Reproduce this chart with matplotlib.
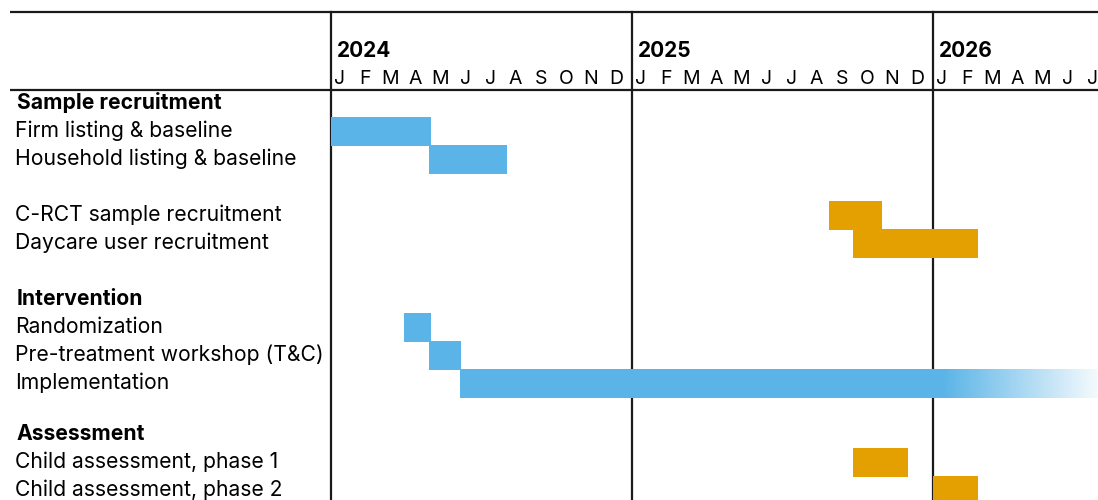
import numpy as np
import matplotlib.pyplot as plt
from matplotlib.colors import to_rgb

plt.rcParams['font.family'] = ['Inter', 'DejaVu Sans']

# ---- data (months counted from Jan 2024) ----
years = ["2024", "2025", "2026"]
month_letters = ["J", "F", "M", "A", "M", "J", "J", "A", "S", "O", "N", "D"]

sections = ["Sample recruitment", "Intervention", "Assessment"]
section_tasks = [
    ["Firm listing & baseline", "Household listing & baseline", None,
     "C-RCT sample recruitment", "Daycare user recruitment"],
    ["Randomization", "Pre-treatment workshop (T&C)", "Implementation"],
    ["Child assessment, phase 1", "Child assessment, phase 2"],
]
task_start = {
    "Firm listing & baseline": 0.0,
    "Household listing & baseline": 3.9,
    "C-RCT sample recruitment": 19.85,
    "Daycare user recruitment": 20.8,
    "Randomization": 2.92,
    "Pre-treatment workshop (T&C)": 3.9,
    "Implementation": 5.15,
    "Child assessment, phase 1": 20.8,
    "Child assessment, phase 2": 24.0,
}
task_end = {
    "Firm listing & baseline": 4.0,
    "Household listing & baseline": 7.0,
    "C-RCT sample recruitment": 21.95,
    "Daycare user recruitment": 25.8,
    "Randomization": 4.0,
    "Pre-treatment workshop (T&C)": 5.2,
    "Implementation": 30.6,
    "Child assessment, phase 1": 23.0,
    "Child assessment, phase 2": 25.8,
}
orange_tasks = ["C-RCT sample recruitment", "Daycare user recruitment",
                "Child assessment, phase 1", "Child assessment, phase 2"]
ongoing_task = "Implementation"
fade_from = 24.4

BLUE = "#5AB4E7"
ORANGE = "#E4A000"
LINE = "#1a1a1a"

W, H = 1098, 500
px_month = 301 / 12.0
x0_px = 331

fig = plt.figure(figsize=(W / 100, H / 100), dpi=100)
ax = fig.add_axes([0, 0, 1, 1])
ax.set_xlim(-x0_px / px_month, (W - x0_px) / px_month)
ax.set_ylim(H, 0)
ax.axis("off")

def px2m(p):
    return (p - x0_px) / px_month

# ---- layout of rows ----
rows = []
y = 102
for s, sec in enumerate(sections):
    if s == 2:
        y -= 5
    rows.append((sec, y, True))
    y += 28
    for t in section_tasks[s]:
        if t is not None:
            rows.append((t, y, False))
        y += 28
    y += 28

bar_h = 29
for label, yc, head in rows:
    ax.text(px2m(17 if head else 15), yc + 7, label,
            fontsize=15.2, fontweight="bold" if head else "normal",
            va="baseline", ha="left")
    if head:
        continue
    s, e = task_start[label], task_end[label]
    col = ORANGE if label in orange_tasks else BLUE
    if label == ongoing_task:
        # solid part, then fade out to show it keeps going
        ax.barh(yc + 1.5, fade_from - s, left=s, height=bar_h, color=col, lw=0, zorder=3)
        n = 256
        rgba = np.zeros((1, n, 4))
        rgba[..., :3] = to_rgb(col)
        rgba[0, :, 3] = np.linspace(1.0, 0.06, n)
        ax.imshow(rgba, extent=[fade_from, e, yc + 1.5 + bar_h / 2, yc + 1.5 - bar_h / 2],
                  aspect="auto", interpolation="bilinear", zorder=3)
    else:
        ax.barh(yc + 1.5, e - s, left=s, height=bar_h, color=col, lw=0, zorder=3)

# ---- header ----
ax.plot([px2m(10), px2m(W)], [12, 12], color=LINE, lw=1.6, zorder=2, solid_capstyle="butt")
ax.plot([px2m(10), px2m(W)], [89.5, 89.5], color=LINE, lw=1.6, zorder=2, solid_capstyle="butt")
for i, yr in enumerate(years):
    ax.plot([12 * i, 12 * i], [12, H], color=LINE, lw=1.6, zorder=2)
    ax.text(12 * i + 0.24, 57, yr, fontsize=15, fontweight="bold", va="baseline", ha="left")
for m in range(31):
    ax.text(m + 0.36, 83.5, month_letters[m % 12], fontsize=14, fontweight="normal",
            va="baseline", ha="center", clip_on=True)

fig.savefig("out.png", dpi=100)
